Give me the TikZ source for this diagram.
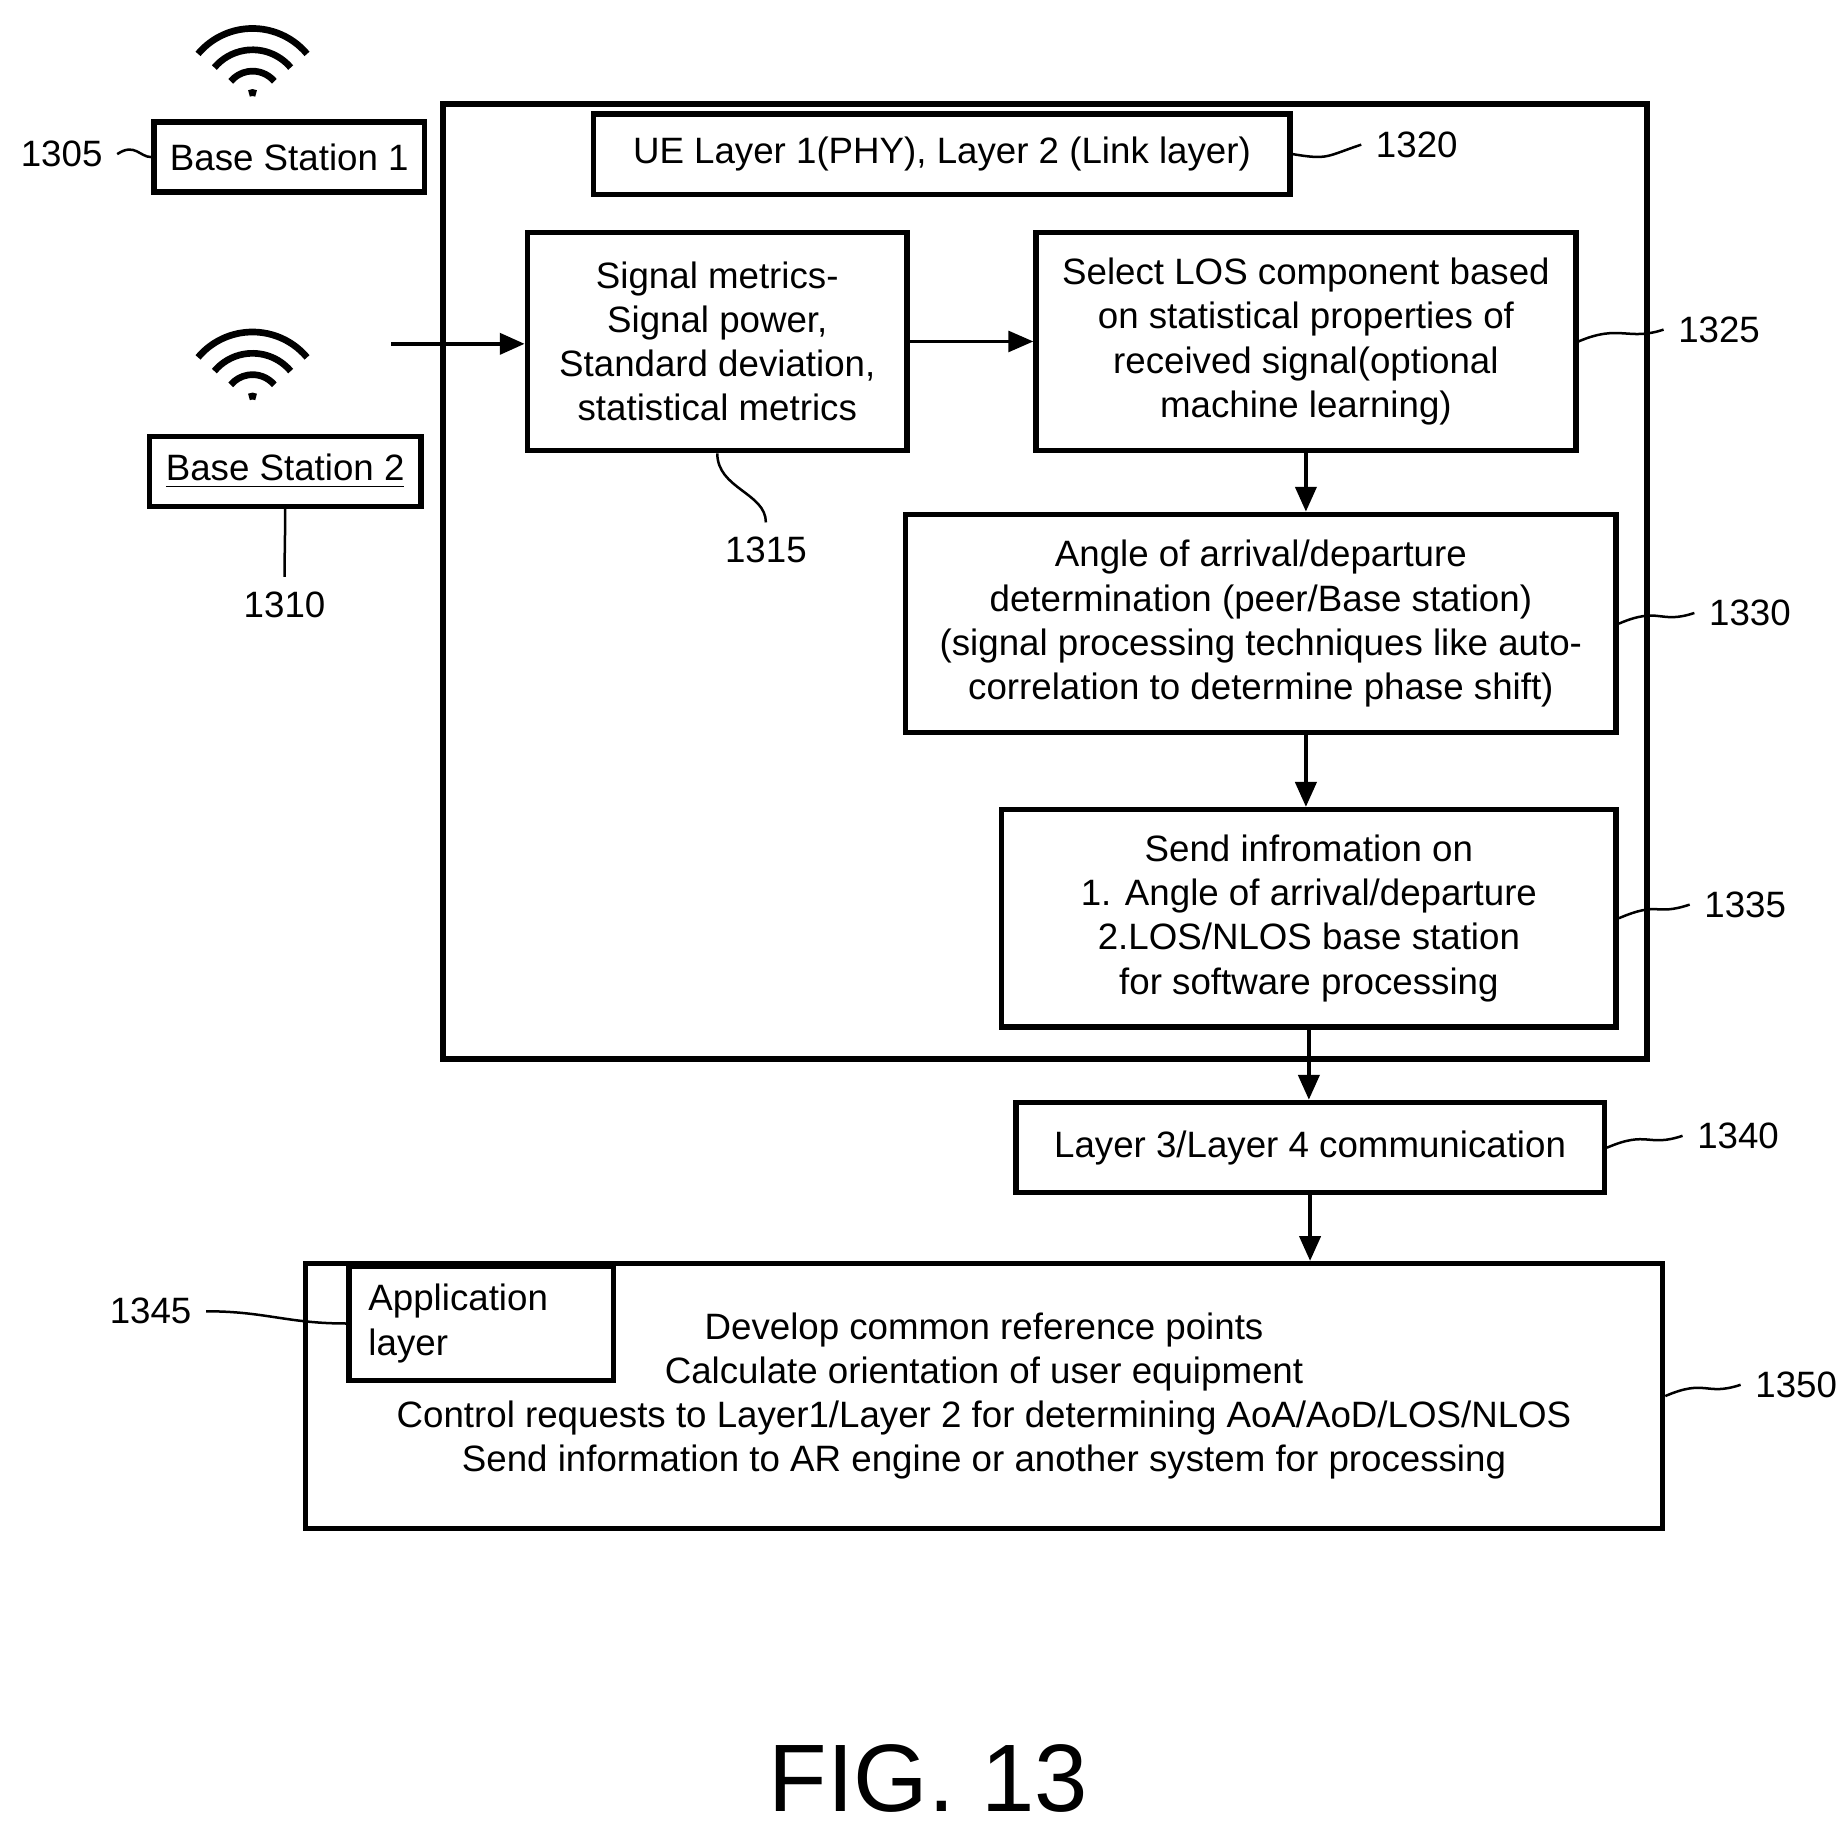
\documentclass[tikz,border=0pt]{standalone}
\usepackage{fontspec}
\setmainfont{Liberation Sans}
\usetikzlibrary{positioning,arrows.meta}

\tikzset{
    blk/.style={draw, line width=1.3pt, align=center, inner sep=2pt, font=\fontsize{8.8}{10.6}\selectfont},
    ref/.style={font=\fontsize{8.8}{10.6}\selectfont},
    flow/.style={-{Triangle[length=6pt,width=5pt]}, line width=1.1pt},
    lead/.style={line width=0.6pt},
    wave/.style={line width=1.6pt}
}

\begin{document}
\begin{tikzpicture}[x=0.01cm, y=-0.01cm]
    \useasboundingbox (0,0) rectangle (1552,1550);

    % Wireless icons
    \foreach \cy in {84, 340} {
        \begin{scope}[shift={(213,\cy)}, y=0.01cm]
            \foreach \r in {60, 42, 24} {
                \draw[wave] (40:\r) arc[start angle=40, end angle=140, radius=\r];
            }
            \draw[wave] (60:6) arc[start angle=60, end angle=120, radius=6];
        \end{scope}
    }

    % Base stations
    \node[blk, minimum width=2.28cm, minimum height=0.59cm] (bs1) at (244,132.5) {Base Station 1};
    \node[blk, minimum width=2.29cm, minimum height=0.59cm] (bs2) at (240.5,397.5) {\underline{Base Station 2}};

    % UE box and its blocks
    \node[draw, line width=1.3pt, minimum width=10.15cm, minimum height=8.05cm] (ue) at (881.5,490.5) {};
    \node[blk, minimum width=5.87cm, minimum height=0.68cm] (phy) at (794.5,130) {UE Layer 1(PHY), Layer 2 (Link layer)};
    \node[blk, minimum width=3.2cm, minimum height=1.84cm] (sig) at (605,288) {Signal metrics-\\Signal power,\\Standard deviation,\\statistical metrics};
    \node[blk, minimum width=4.55cm, minimum height=1.84cm] (los) at (1101.5,288) {Select LOS component based\\on statistical properties of\\received signal(optional\\machine learning)};
    \node[blk, minimum width=5.99cm, minimum height=1.84cm] (aoa) at (1063.5,526) {Angle of arrival/departure\\determination (peer/Base station)\\(signal processing techniques like auto-\\correlation to determine phase shift)};
    \node[blk, minimum width=5.18cm, minimum height=1.83cm] (send) at (1104,774.5) {Send infromation on\\1. Angle of arrival/departure\\2.LOS/NLOS base station\\for software processing};

    % Outside the UE box
    \node[blk, minimum width=4.96cm, minimum height=0.76cm] (l34) at (1105,968) {Layer 3/Layer 4 communication};
    \node[blk, minimum width=11.44cm, minimum height=2.23cm] (app) at (830,1177.5) {Develop common reference points\\Calculate orientation of user equipment\\Control requests to Layer1/Layer 2 for determining AoA/AoD/LOS/NLOS\\Send information to AR engine or another system for processing};
    \node[blk, align=left, anchor=north west, text width=1.9cm, minimum width=2.23cm, minimum height=0.96cm] (appl) at (292,1066) {Application\\layer};

    % Flow
    \coordinate (rx) at (330,290);
    \draw[flow] (rx) -- (rx -| sig.west);
    \draw[flow, line width=0.8pt] (sig.east) -- (los.west);
    \draw[flow] (los.south) -- (los.south |- aoa.north);
    \draw[flow] (los.south |- aoa.south) -- (los.south |- send.north);
    \draw[flow] (send.south) -- (send.south |- l34.north);
    \draw[flow] (l34.south) -- (l34.south |- app.north);

    % Reference numerals
    \node[ref] (n1305) at (52,130) {1305};
    \node[ref] (n1310) at (240,510) {1310};
    \node[ref] (n1315) at (646,464) {1315};
    \node[ref] (n1320) at (1195,122) {1320};
    \node[ref] (n1325) at (1450,278) {1325};
    \node[ref] (n1330) at (1476,517) {1330};
    \node[ref] (n1335) at (1472,763) {1335};
    \node[ref] (n1340) at (1466,958) {1340};
    \node[ref] (n1345) at (127,1106) {1345};
    \node[ref] (n1350) at (1515,1168) {1350};

    \draw[lead] (n1305.east) .. controls +(15,-10) and +(-10,0) .. (bs1.west);
    \draw[lead] (bs2.south) .. controls +(0,30) and +(0,-20) .. (n1310.north);
    \draw[lead] (sig.south) .. controls +(0,30) and +(0,-25) .. (n1315.north);
    \draw[lead] (phy.east) .. controls +(30,5) and +(-30,10) .. (n1320.west);
    \draw[lead] (los.east) .. controls +(35,-15) and +(-30,10) .. (n1325.west);
    \draw[lead] (aoa.east) .. controls +(35,-15) and +(-30,10) .. (n1330.west);
    \draw[lead] (send.east) .. controls +(35,-15) and +(-30,10) .. (n1335.west);
    \draw[lead] (l34.east) .. controls +(35,-15) and +(-30,10) .. (n1340.west);
    \draw[lead] (appl.west) .. controls +(-50,0) and +(50,0) .. (n1345.east);
    \draw[lead] (app.east) .. controls +(35,-15) and +(-30,10) .. (n1350.west);

    \node[font=\fontsize{23}{27}\selectfont] (fig) at (783,1500) {FIG. 13};
\end{tikzpicture}
\end{document}
